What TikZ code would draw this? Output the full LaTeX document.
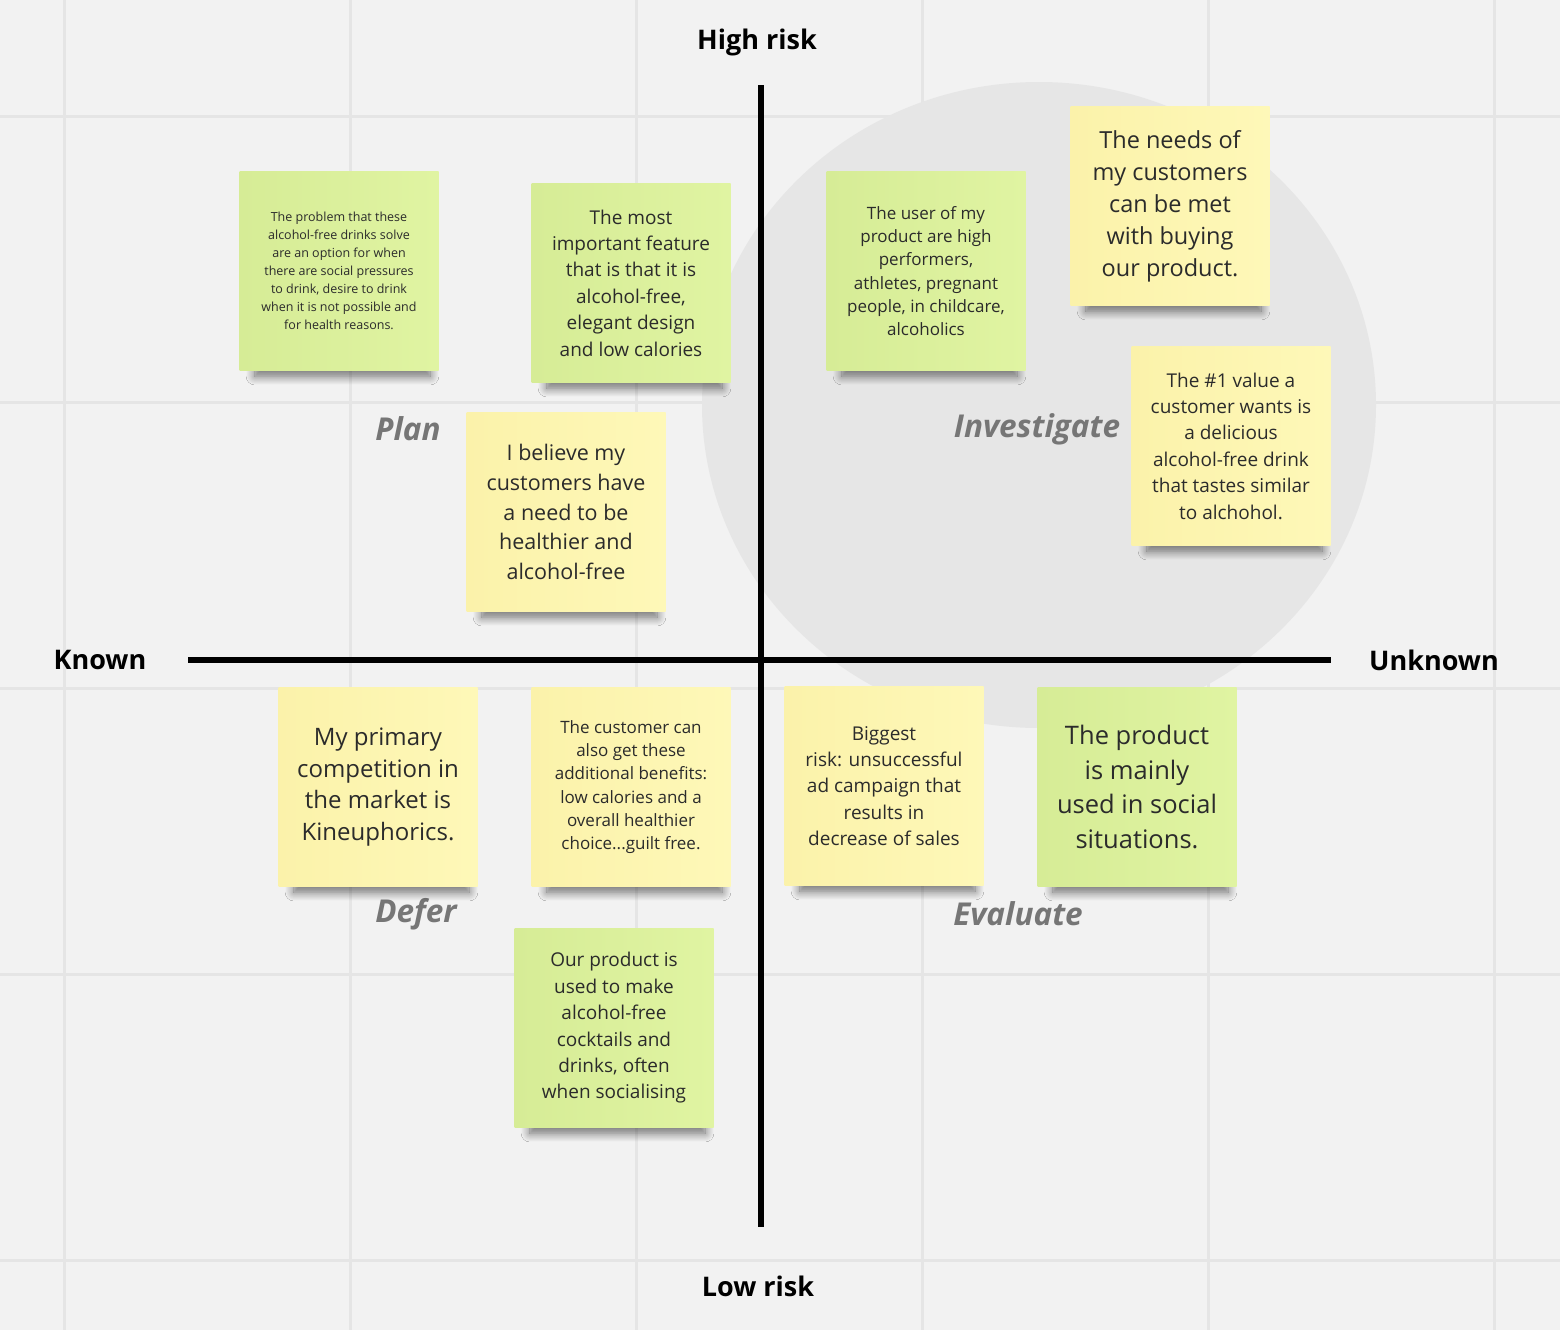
\documentclass[tikz,border=0pt]{standalone}
\usepackage{fontspec}
\setmainfont{Open Sans}
\usetikzlibrary{shadows.blur}
\definecolor{boardgray}{RGB}{242,242,242}
\definecolor{gridgray}{RGB}{229,229,229}
\definecolor{zonegray}{RGB}{230,230,230}
\definecolor{greenleft}{RGB}{214,236,150}
\definecolor{greenright}{RGB}{224,244,162}
\definecolor{yellowleft}{RGB}{251,242,170}
\definecolor{yellowright}{RGB}{254,248,184}
\definecolor{notetext}{RGB}{43,43,43}
\definecolor{quadgray}{RGB}{118,118,118}
\tikzset{
	gridline/.style={draw=gridgray, line width=3pt},
	axisline/.style={draw=black, line width=6pt},
	sticky/.style={minimum width=199pt, minimum height=199pt, align=center, text=notetext,
		blur shadow={shadow xshift=4pt, shadow yshift=-20pt, shadow scale=0.88,
			shadow opacity=55, shadow blur radius=10pt, shadow blur steps=12}},
	greennote/.style={sticky, left color=greenleft, right color=greenright},
	yellownote/.style={sticky, left color=yellowleft, right color=yellowright},
	notesize/.style 2 args={font=\fontsize{#1}{#2}\selectfont},
	axislabel/.style={font=\fontsize{27}{32}\selectfont\bfseries, text=black},
	quadlabel/.style={font=\fontsize{31.5}{36}\selectfont\bfseries\itshape, text=quadgray}
	}

\begin{document}
\begin{tikzpicture}[x=1pt, y=-1pt]

	% board with grid
	\fill[boardgray] (0,0) rectangle (1560,1330);
	\useasboundingbox (0,0) rectangle (1560,1330);
	\foreach \gx in {64,350,...,1494}
		\draw[gridline] (\gx,0) -- (\gx,1330);
	\foreach \gy in {116,402,...,1260}
		\draw[gridline] (0,\gy) -- (1560,\gy);

	% highlighted zone behind investigate
	\fill[zonegray] (1039,405) ellipse (337 and 323);

	% axes
	\coordinate (riskhigh) at (761,85);
	\coordinate (risklow) at (761,1227);
	\coordinate (knownend) at (188,660);
	\coordinate (unknownend) at (1331,660);
	\draw[axisline] (riskhigh) -- (risklow);
	\draw[axisline] (knownend) -- (unknownend);

	% axis annotation
	\node[axislabel] (high) at (757,42) {High risk};
	\node[axislabel] (low) at (758,1286) {Low risk};
	\node[axislabel] (known) at (100,660) {Known};
	\node[axislabel] (unknown) at (1434,660) {Unknown};

	% quadrant names
	\node[quadlabel] (plan) at (408,429) {Plan};
	\node[quadlabel] (investigate) at (1037,429) {Investigate};
	\node[quadlabel] (defer) at (416,914) {Defer};
	\node[quadlabel] (evaluate) at (1018,914) {Evaluate};

	% sticky notes, high risk / known
	\node[greennote, notesize={12.5}{18}] (problem) at (339,271) {The problem that these\\alcohol-free drinks solve\\are an option for when\\there are social pressures\\to drink, desire to drink\\when it is not possible and\\for health reasons.};
	\node[greennote, notesize={19}{26.4}] (feature) at (631,283) {The most\\important feature\\that is that it is\\alcohol-free,\\elegant design\\and low calories};
	\node[yellownote, notesize={21.5}{29.6}] (believe) at (566,512) {I believe my\\customers have\\a need to be\\healthier and\\alcohol-free};

	% sticky notes, high risk / unknown
	\node[greennote, notesize={17}{23.3}] (users) at (926,271) {The user of my\\product are high\\performers,\\athletes, pregnant\\people, in childcare,\\alcoholics};
	\node[yellownote, notesize={23.5}{32}] (needs) at (1170,206) {The needs of\\my customers\\can be met\\with buying\\our product.};
	\node[yellownote, notesize={19}{26.4}] (value) at (1231,446) {The \#1 value a\\customer wants is\\a delicious\\alcohol-free drink\\that tastes similar\\to alchohol.};

	% sticky notes, low risk / known
	\node[yellownote, notesize={24}{31.7}] (rival) at (378,787) {My primary\\competition in\\the market is\\Kineuphorics.};
	\node[yellownote, notesize={17}{23.2}] (benefits) at (631,787) {The customer can\\also get these\\additional benefits:\\low calories and a\\overall healthier\\choice...guilt free.};
	\node[greennote, notesize={19}{26.4}] (cocktails) at (614,1028) {Our product is\\used to make\\alcohol-free\\cocktails and\\drinks, often\\when socialising};

	% sticky notes, low risk / unknown
	\node[yellownote, notesize={19}{26.3}] (risk) at (884,786) {Biggest\\risk: unsuccessful\\ad campaign that\\results in\\decrease of sales};
	\node[greennote, notesize={25.5}{34.7}] (social) at (1137,787) {The product\\is mainly\\used in social\\situations.};

\end{tikzpicture}
\end{document}
